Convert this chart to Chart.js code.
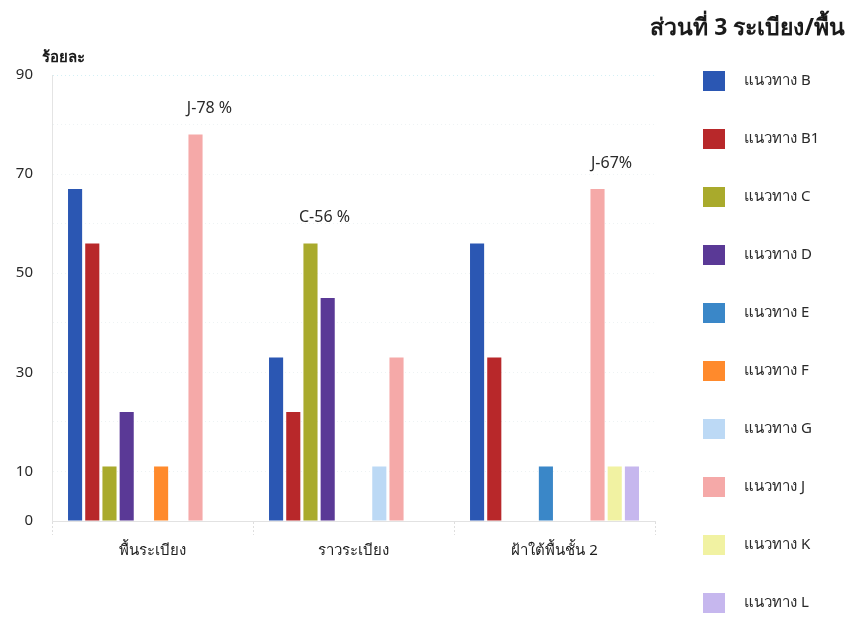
<!DOCTYPE html>
<html lang="th">
<head>
<meta charset="utf-8">
<title>ส่วนที่ 3 ระเบียง/พื้น</title>
<script src="https://cdn.jsdelivr.net/npm/chart.js@4.4.1/dist/chart.umd.min.js"></script>
<style>
  html, body { margin: 0; padding: 0; background: #fff; }
  #wrap { width: 848px; height: 621px; }
</style>
</head>
<body>
<div id="wrap"><canvas id="surveyChart" width="848" height="621"></canvas></div>
<script>
const categories = ['พื้นระเบียง', 'ราวระเบียง', 'ฝ้าใต้พื้นชั้น 2'];
const seriesKeys = ['B', 'B1', 'C', 'D', 'E', 'F', 'G', 'J', 'K', 'L'];
const seriesColors = ['#2b57b3', '#b8282a', '#a9aa2c', '#5a3996', '#3a87c8',
                      '#ff8a2c', '#bcd9f5', '#f5a9a8', '#f1f2a2', '#c6b7ee'];

// percent per category, in the order of categories
const valuesB  = [67, 33, 56];
const valuesB1 = [56, 22, 33];
const valuesC  = [11, 56, 0];
const valuesD  = [22, 45, 0];
const valuesE  = [0, 0, 11];
const valuesF  = [11, 0, 0];
const valuesG  = [0, 11, 0];
const valuesJ  = [78, 33, 67];
const valuesK  = [0, 0, 11];
const valuesL  = [0, 0, 11];

const yLabelTicks = [0, 10, 30, 50, 70, 90];
const chartTitle = 'ส่วนที่ 3 ระเบียง/พื้น';
const yUnit = 'ร้อยละ';

// the one bar called out above each category
const calloutSeries = ['J', 'C', 'J'];
const calloutSuffix = [' %', ' %', '%'];

const seriesValues = [valuesB, valuesB1, valuesC, valuesD, valuesE,
                      valuesF, valuesG, valuesJ, valuesK, valuesL];

const FONT = '"Noto Sans", "DejaVu Sans", sans-serif';

const datasets = seriesKeys.map((key, i) => ({
    label: 'แนวทาง ' + key,
    data: seriesValues[i],
    backgroundColor: seriesColors[i],
    borderWidth: 0,
    categoryPercentage: 0.856,
    barPercentage: 0.82
}));

const sideNotes = {
    id: 'sideNotes',
    afterDraw(chart) {
        const ctx = chart.ctx;
        ctx.save();

        // title, top right
        ctx.fillStyle = '#1a1a1a';
        ctx.font = 'bold 23px ' + FONT;
        ctx.textAlign = 'right';
        ctx.textBaseline = 'middle';
        ctx.fillText(chartTitle, 845, 28);

        // unit above the y axis
        ctx.font = 'bold 15px ' + FONT;
        ctx.textAlign = 'left';
        ctx.fillText(yUnit, 42, 58);

        // callouts over the highlighted bars
        ctx.font = '16px ' + FONT;
        ctx.fillStyle = '#2a2a2a';
        ctx.textAlign = 'center';
        categories.forEach((cat, i) => {
            const ds = seriesKeys.indexOf(calloutSeries[i]);
            const bar = chart.getDatasetMeta(ds).data[i];
            const value = chart.data.datasets[ds].data[i];
            ctx.fillText(calloutSeries[i] + '-' + value + calloutSuffix[i], bar.x + 14, bar.y - 26);
        });

        // legend column on the right
        ctx.font = '15px ' + FONT;
        ctx.textAlign = 'left';
        chart.data.datasets.forEach((ds, i) => {
            const cy = 81 + i * 58;
            ctx.fillStyle = ds.backgroundColor;
            ctx.fillRect(703, cy - 10, 22, 20);
            ctx.fillStyle = '#2a2a2a';
            ctx.fillText(ds.label, 744, cy);
        });

        ctx.restore();
    }
};

new Chart(document.getElementById('surveyChart'), {
    type: 'bar',
    data: { labels: categories, datasets: datasets },
    options: {
        responsive: false,
        animation: false,
        layout: { padding: { top: 75, right: 193, bottom: 0, left: 0 } },
        plugins: {
            legend: { display: false },
            title: { display: false },
            tooltip: { enabled: false }
        },
        scales: {
            x: {
                afterFit: scale => { scale.height = 100; },
                grid: {
                    offset: true,
                    drawOnChartArea: false,
                    tickLength: 14,
                    color: '#dedede',
                    tickBorderDash: [2, 2]
                },
                border: { display: true, color: '#e2e2e2', dash: [2, 2] },
                ticks: {
                    padding: 7,
                    color: '#1e1e1e',
                    font: { family: FONT, size: 15 }
                }
            },
            y: {
                min: 0,
                max: 90,
                afterFit: scale => { scale.width = 52; },
                grid: {
                    drawTicks: false,
                    color: ctx => ctx.tick.value === 90 ? 'rgba(170, 225, 235, 0.5)' : 'rgba(200, 215, 220, 0.3)'
                },
                border: { display: true, color: '#e4e4e4', dash: [1, 3] },
                ticks: {
                    stepSize: 10,
                    padding: 19,
                    autoSkip: false,
                    color: '#2a2a2a',
                    font: { family: FONT, size: 15 },
                    callback: v => yLabelTicks.includes(v) ? String(v) : ''
                }
            }
        }
    },
    plugins: [sideNotes]
});
</script>
</body>
</html>
